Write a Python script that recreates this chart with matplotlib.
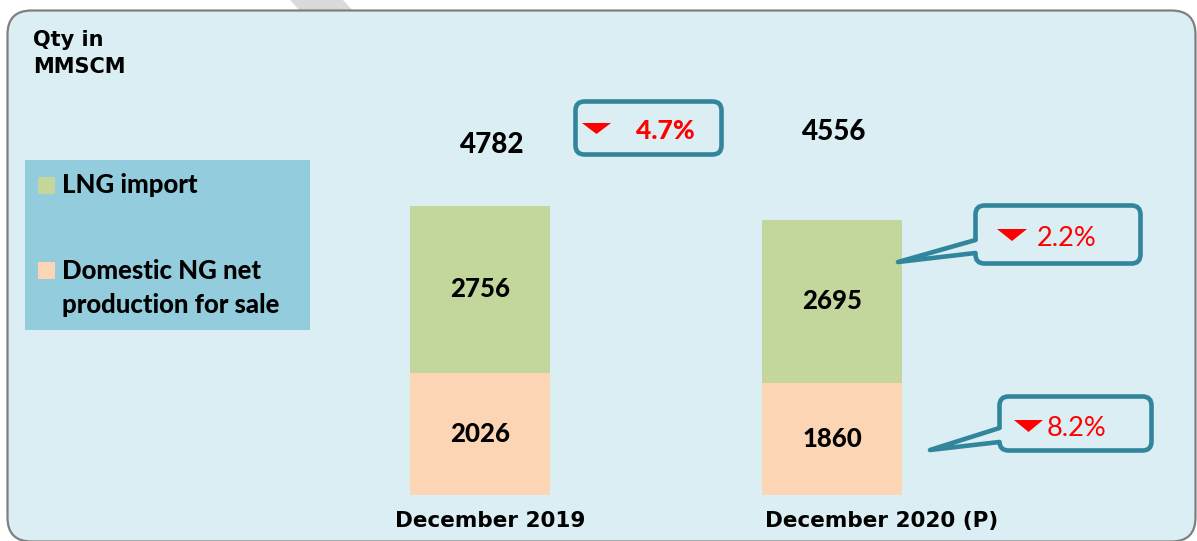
import matplotlib.pyplot as plt
from matplotlib.patches import FancyBboxPatch, Rectangle, Polygon
from matplotlib.path import Path
from matplotlib.patches import PathPatch
from matplotlib.transforms import Affine2D

# data (MMSCM)
periods = ["December 2019", "December 2020 (P)"]
domestic = [2026, 1860]
lng = [2756, 2695]
totals = [4782, 4556]
changes = ["4.7%", "2.2%", "8.2%"]
series_names = ["LNG import", "Domestic NG net\nproduction for sale"]

W, H = 1197, 541
BG = "#DAEEF3"
GREEN = "#C3D69B"
ORANGE = "#FCD5B5"
TEAL = "#31859C"
LEG_BG = "#93CDDD"
CAL = "Lato"

fig = plt.figure(figsize=(W / 100, H / 100), dpi=100)
fig.patch.set_facecolor("white")
# pixel coordinates, origin at top left
px = Affine2D().scale(1 / 100, -1 / 100).translate(0, H / 100) + fig.dpi_scale_trans

# faint watermark fragment at the top
fig.add_artist(Polygon([(290, 0), (343, 0), (353, 11), (300, 11)], closed=True,
                       fc="#DADADA", ec="none", transform=px, zorder=-2))
# panel
fig.add_artist(FancyBboxPatch((7.5, 10.5), 1188, 531, boxstyle="round,pad=0,rounding_size=24",
                              fc=BG, ec="#7F7F7F", lw=1.6, transform=px, zorder=-1))

fig.text(33 / W, 1 - 30 / H, "Qty in\nMMSCM", ha="left", va="top", fontsize=15,
         fontweight="bold", family="DejaVu Sans", linespacing=1.43)

# bars
ax = fig.add_axes([0, 0, 1, 1])
ax.set_zorder(2)
ax.set_axis_off()
ax.patch.set_visible(False)
ax.set_xlim(-480 / 352, (W - 480) / 352)
ax.set_ylim((495 - H) / 0.0604, 495 / 0.0604)
x = list(range(len(periods)))
ax.bar(x, domestic, width=0.398, color=ORANGE)
ax.bar(x, lng, width=0.398, bottom=domestic, color=GREEN)

for i in x:
    ax.text(i, domestic[i] / 2, str(domestic[i]), ha="center", va="center",
            fontsize=18.5, fontweight="black", family=CAL)
    ax.text(i, domestic[i] + lng[i] / 2, str(lng[i]), ha="center", va="center",
            fontsize=18.5, fontweight="black", family=CAL)

total_offsets = [(12, 61), (2, 88)]
for i in x:
    ax.annotate(str(totals[i]), xy=(i, totals[i]), xytext=total_offsets[i],
                textcoords="offset pixels", ha="center", va="center",
                fontsize=20, fontweight="black", family=CAL)

label_offsets = [(10, -26), (50, -26)]
for i in x:
    ax.annotate(periods[i], xy=(i, 0), xytext=label_offsets[i], textcoords="offset pixels",
                ha="center", va="center", fontsize=15.5, fontweight="bold", family="DejaVu Sans")

# legend
fig.add_artist(Rectangle((25, 160), 285, 170, fc=LEG_BG, ec="none", transform=px))
fig.add_artist(Rectangle((38, 177), 17, 17, fc=GREEN, ec="none", transform=px))
fig.add_artist(Rectangle((38, 262), 17, 17, fc=ORANGE, ec="none", transform=px))
fig.text(62 / W, 1 - 185 / H, series_names[0], ha="left", va="center", fontsize=18.5,
         fontweight="black", family=CAL)
fig.text(62 / W, 1 - 288 / H, series_names[1], ha="left", va="center", fontsize=18.5,
         fontweight="black", family=CAL, linespacing=1.52)


def callout(bx, by, bw, bh, tri, text, tx, ty, bold, tail=None):
    fig.add_artist(FancyBboxPatch((bx, by), bw, bh, boxstyle="round,pad=0,rounding_size=9",
                                  fc=BG, ec=TEAL, lw=3.3, transform=px, zorder=3))
    if tail is not None:
        y1, y2, tip = tail
        fig.add_artist(Polygon([(bx + 4, y1), tip, (bx + 4, y2)], closed=True, fc=BG, ec="none",
                               transform=px, zorder=4))
        fig.add_artist(PathPatch(Path([(bx, y1), tip, (bx, y2)]), fc="none", ec=TEAL, lw=3.3,
                                 capstyle="round", joinstyle="round", transform=px, zorder=5))
    x0, x1, ytop, ybot = tri
    fig.add_artist(Polygon([(x0, ytop), (x1, ytop), ((x0 + x1) / 2, ybot)], closed=True,
                           fc="#FF0000", ec="none", transform=px, zorder=6))
    fig.text(tx / W, 1 - ty / H, text, ha="left", va="center",
             fontsize=19 if bold else 19.5, color="#FF0000",
             fontweight="black" if bold else "normal", family=CAL, zorder=6)


callout(575.5, 101.5, 146, 53, (582, 611, 123, 134), changes[0], 636, 131, True)
callout(975.5, 205.5, 165, 58, (997, 1027, 229, 241), changes[1], 1037, 238, False,
        tail=(240, 253, (898, 262)))
callout(999.5, 396.5, 152, 54, (1014, 1043, 420, 432), changes[2], 1047, 428, False,
        tail=(428, 442, (930, 450)))

fig.savefig("out.png", dpi=100, facecolor="white")
